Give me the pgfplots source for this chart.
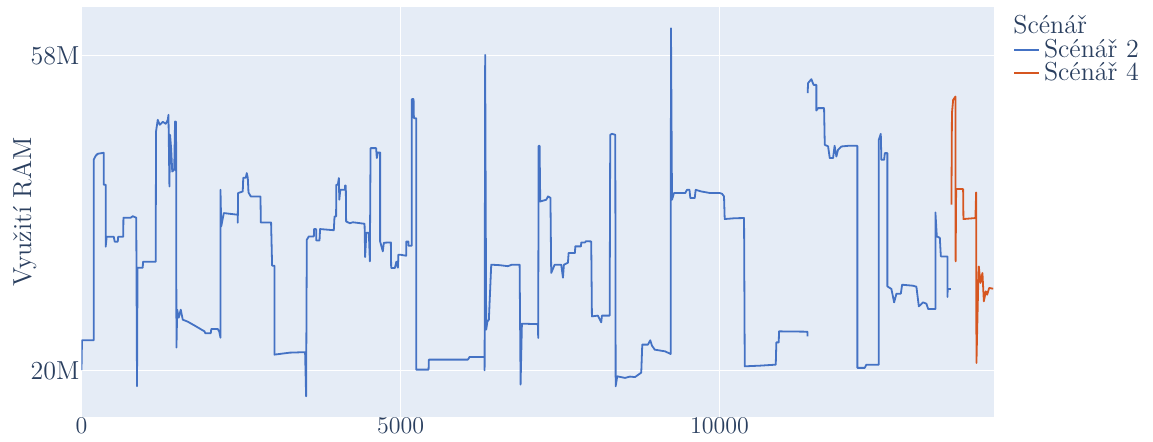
\documentclass[border=0pt]{standalone}
\usepackage{pgfplots}
\pgfplotsset{compat=1.18}
\definecolor{plotbg}{HTML}{E5ECF6}
\definecolor{labelcol}{HTML}{2A3F5F}
\definecolor{scen2}{RGB}{68,114,196}
\definecolor{scen4}{RGB}{214,86,32}
\newcommand{\chartfont}{\fontsize{13}{15.6}\selectfont}

\begin{document}
\begin{tikzpicture}
\useasboundingbox (-40.75pt,-12pt) rectangle (535.75pt,208.5pt);
\begin{axis}[
  scale only axis, width=456.25pt, height=205pt,
  at={(0pt,0pt)}, anchor=south west,
  xmin=0, xmax=14300, ymin=14.4, ymax=63.9,
  axis background/.style={fill=plotbg},
  axis line style={draw=none},
  major tick length=0pt,
  xtick={0,5000,10000},
  ytick={20,58}, yticklabels={20M,58M},
  scaled x ticks=false,
  /pgf/number format/1000 sep={},
  grid=major,
  major grid style={white, line width=0.6pt},
  tick label style={font=\chartfont, text=labelcol},
  xticklabel style={anchor=north, inner sep=0pt, yshift=-0.3pt},
  yticklabel style={anchor=east, inner sep=0pt, xshift=-0.8pt},
  ylabel={Využití RAM},
  ylabel style={at={(axis description cs:-0.0553,0.5)}, anchor=base, font=\chartfont, text=labelcol},
  unbounded coords=jump,
  legend cell align=left,
  legend style={at={(axis description cs:1,1)}, anchor=north west,
    xshift=9.5pt, yshift=-15.5pt, draw=none, fill=none,
    inner sep=0pt, outer sep=0pt, row sep=1.4pt,
    font=\chartfont,
    nodes={inner ysep=0.5pt, text depth=0pt}},
]
% legend samples: short solid strokes in the series colours
\addlegendimage{legend image code/.code={\draw[color=scen2, line width=1pt] (0pt,-1pt) -- (12.5pt,-1pt);}}
\addlegendentry{\textcolor{labelcol}{Scénář 2}}
\addlegendimage{legend image code/.code={\draw[color=scen4, line width=1pt] (0pt,-1pt) -- (12.5pt,-1pt);}}
\addlegendentry{\textcolor{labelcol}{Scénář 4}}
% Scénář 2
\addplot[color=scen2, line width=0.9pt, line join=round, forget plot] coordinates {
(0,20.06)(8,23.66)(191,23.66)(191,45.45)(223,45.94)(254,46.18)(348,46.30)(348,42.44)(379,42.44)(379,34.96)(395,36.17)(505,36.17)(521,35.56)(568,35.56)(575,36.17)(654,36.17)(657,38.46)(771,38.46)(803,38.64)(858,38.46)(870,18.11)(878,32.43)(960,32.43)(964,33.15)(1163,33.15)(1168,48.87)(1195,50.28)(1226,49.68)(1273,50.04)(1320,49.80)(1352,50.28)(1363,50.88)(1378,42.23)(1388,48.47)(1406,46.66)(1422,44.04)(1453,44.25)(1466,50.07)(1482,50.04)(1488,22.78)(1500,27.36)(1524,26.39)(1555,27.36)(1587,26.15)(1665,25.91)(1775,25.43)(1927,24.74)(1940,24.52)(2026,24.52)(2034,25.03)(2135,25.03)(2159,24.70)(2178,23.98)(2178,41.83)(2190,37.41)(2230,39.02)(2449,38.82)(2449,37.85)(2454,41.44)(2527,41.63)(2535,43.28)(2574,43.28)(2590,43.85)(2606,43.28)(2617,41.51)(2653,41.03)(2805,41.03)(2810,37.89)(2971,37.89)(2987,32.67)(3024,32.67)(3024,21.93)(3264,22.17)(3504,22.23)(3520,16.90)(3531,35.80)(3562,36.20)(3641,36.20)(3645,37.09)(3677,37.09)(3680,35.72)(3730,35.72)(3739,37.09)(3954,36.95)(3965,38.61)(3990,38.61)(3993,42.44)(4017,42.44)(4033,43.25)(4040,40.63)(4056,41.83)(4127,41.83)(4131,42.35)(4142,42.35)(4147,38.01)(4205,37.79)(4252,37.91)(4436,37.73)(4445,33.72)(4464,36.65)(4503,36.65)(4519,33.19)(4530,46.86)(4617,46.86)(4628,45.66)(4644,46.33)(4680,46.33)(4680,35.60)(4722,34.39)(4738,35.44)(4848,35.48)(4853,32.39)(4911,32.39)(4934,33.15)(4958,32.43)(4966,33.99)(5000,33.99)(5088,33.87)(5091,35.60)(5122,35.60)(5125,35.08)(5177,35.08)(5177,52.78)(5204,52.78)(5209,50.48)(5245,50.48)(5245,20.12)(5439,20.12)(5444,21.33)(6055,21.33)(6082,21.65)(6317,21.65)(6317,20.04)(6326,58.12)(6342,24.95)(6361,25.91)(6384,26.15)(6421,32.79)(6557,32.73)(6682,32.61)(6745,32.79)(6866,32.79)(6881,18.31)(6902,25.67)(7153,25.61)(7157,23.94)(7164,47.14)(7179,47.14)(7189,40.42)(7283,40.63)(7310,41.03)(7349,40.87)(7361,31.79)(7415,32.79)(7518,32.79)(7545,31.22)(7560,32.79)(7623,33.03)(7634,34.20)(7733,34.20)(7738,35.00)(7827,35.00)(7832,35.48)(7890,35.48)(7905,35.62)(7988,35.60)(7999,26.55)(8093,26.64)(8145,25.83)(8156,26.64)(8277,26.64)(8286,48.47)(8313,48.59)(8365,48.47)(8371,18.11)(8396,19.31)(8517,19.12)(8595,19.28)(8674,19.22)(8772,19.76)(8788,23.14)(8877,23.14)(8913,23.66)(8940,23.02)(8983,22.53)(9144,22.33)(9233,22.01)(9238,61.34)(9254,40.63)(9285,41.44)(9462,41.44)(9489,41.83)(9528,41.83)(9541,40.83)(9610,40.83)(9625,41.83)(9713,41.63)(9850,41.44)(10002,41.44)(10038,41.35)(10069,41.03)(10080,38.30)(10242,38.40)(10383,38.42)(10394,20.52)(10634,20.60)(10880,20.72)(10889,23.41)(10927,23.41)(10931,24.74)(11375,24.70)(11378,24.14)
(11379,nan)
(11380,53.50)(11386,54.71)(11438,55.19)(11472,54.50)(11516,54.50)(11516,51.40)(11543,51.69)(11637,51.69)(11648,47.26)(11700,47.08)(11726,45.66)(11778,45.66)(11802,47.14)(11830,45.85)(11856,46.66)(11908,47.06)(12013,47.14)(12159,47.14)(12159,20.33)(12275,20.33)(12300,20.72)(12495,20.72)(12495,47.87)(12526,48.59)(12535,45.45)(12578,45.45)(12589,46.26)(12629,46.26)(12629,30.17)(12692,29.86)(12735,28.24)(12771,29.29)(12840,29.29)(12860,30.37)(13032,30.25)(13084,30.13)(13122,27.76)(13189,28.24)(13241,28.08)(13268,27.44)(13382,27.44)(13382,39.10)(13404,36.20)(13451,36.04)(13467,33.79)(13570,33.79)(13570,28.89)(13575,29.86)(13624,29.86)
};
% Scénář 4
\addplot[color=scen4, line width=0.9pt, line join=round, forget plot] coordinates {
(13633,40.03)(13641,51.09)(13660,52.69)(13696,53.09)(13699,33.19)(13707,41.92)(13816,41.92)(13821,38.30)(14009,38.42)(14020,41.51)(14025,20.93)(14052,30.17)(14062,32.58)(14088,30.58)(14119,31.79)(14141,28.36)(14172,29.57)(14193,29.17)(14224,29.98)(14287,29.89)
};
\end{axis}
\node[anchor=base west, inner sep=0pt, font=\chartfont, text=labelcol] at (465.75pt,192pt) {Scénář};
\end{tikzpicture}
\end{document}
